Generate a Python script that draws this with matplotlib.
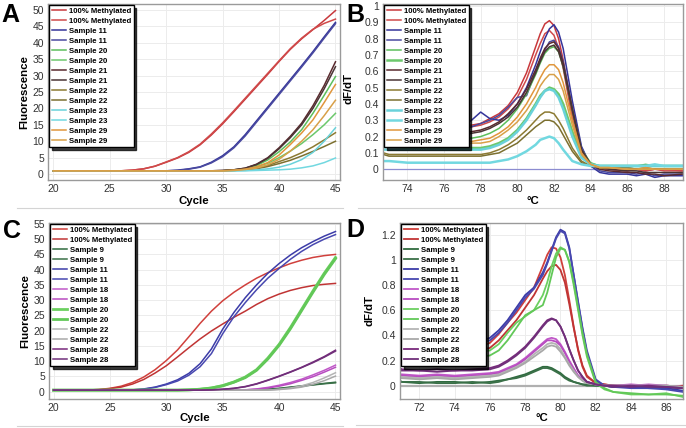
import matplotlib
matplotlib.use("Agg")
import matplotlib.pyplot as plt

plt.rcParams['font.family'] = ['Liberation Sans', 'DejaVu Sans']

# ---------------- Panel A : amplification ----------------
a_cycles = list(range(20, 46))
a_labels = ["100% Methylated", "100% Methylated", "Sample 11", "Sample 11", "Sample 20", "Sample 20",
            "Sample 21", "Sample 21", "Sample 22", "Sample 22", "Sample 23", "Sample 23", "Sample 29", "Sample 29"]
a_meth1 = [1.0]*7 + [1.2, 1.6, 2.4, 3.6, 4.9, 6.6, 8.9, 11.9, 15.3, 19.0, 22.8, 26.6, 30.4, 34.3, 38.0, 41.2, 44.0, 46.8, 49.8]
a_meth2 = [1.0]*7 + [1.2, 1.6, 2.4, 3.7, 5.0, 6.8, 9.1, 12.2, 15.6, 19.3, 23.1, 26.9, 30.7, 34.5, 38.2, 41.4, 44.1, 45.9, 47.2]
a_s11_1 = [1.0]*11 + [1.2, 1.6, 2.2, 3.6, 5.6, 8.3, 12.0, 16.2, 20.4, 24.6, 28.8, 33.0, 37.3, 41.8, 46.2]
a_s11_2 = [1.0]*11 + [1.1, 1.5, 2.1, 3.4, 5.3, 8.0, 11.6, 15.8, 20.0, 24.2, 28.4, 32.6, 36.9, 41.4, 45.8]
a_s20_1 = [1.0]*16 + [1.2, 1.6, 2.6, 4.3, 6.8, 9.8, 13.5, 18.5, 24.0, 29.7]
a_s20_2 = [1.0]*16 + [1.3, 1.6, 2.2, 3.3, 5.0, 7.0, 9.3, 12.0, 15.0, 18.5]
a_s21_1 = [1.0]*15 + [1.1, 1.3, 1.8, 3.0, 5.0, 8.0, 11.5, 15.5, 20.8, 27.0, 34.2]
a_s21_2 = [1.0]*15 + [1.1, 1.3, 1.8, 2.9, 4.8, 7.7, 11.1, 15.0, 20.0, 26.0, 32.7]
a_s22_1 = [1.0]*16 + [1.1, 1.4, 1.8, 2.6, 3.8, 5.0, 6.5, 8.3, 10.4, 12.6]
a_s22_2 = [1.0]*16 + [1.1, 1.3, 1.6, 2.3, 3.2, 4.2, 5.5, 6.9, 8.4, 10.0]
a_s23_1 = [1.0]*17 + [1.1, 1.3, 1.6, 2.1, 3.0, 4.4, 6.6, 10.0, 14.1]
a_s23_2 = [1.0]*17 + [1.0, 1.1, 1.2, 1.3, 1.5, 1.9, 2.5, 3.5, 4.9]
a_s29_1 = [1.0]*16 + [1.2, 1.5, 2.2, 3.5, 5.8, 9.0, 12.5, 16.5, 21.8, 27.3]
a_s29_2 = [1.0]*16 + [1.1, 1.4, 1.8, 2.8, 4.5, 7.0, 10.0, 13.5, 17.8, 22.5]
a_colors = ["#c8383c", "#d04a4a", "#34349a", "#4a4aa0", "#5cbf5c", "#6cc86c", "#5a2a2e", "#4a3434",
            "#8c7a32", "#7c7030", "#6ad2da", "#72d8e0", "#e0963c", "#d8a048"]

# ---------------- Panel B : melt curves ----------------
b_temps = [72.7, 73, 74, 75, 76, 77, 77.5, 78, 78.5, 79, 79.5, 80, 80.5, 81, 81.25, 81.5, 81.75, 82, 82.25, 82.5,
           83, 83.5, 84, 84.5, 85, 86, 86.5, 87, 87.5, 88, 89]
b_labels = a_labels
b_meth1 = [0.36, 0.28, 0.26, 0.27, 0.26, 0.27, 0.27, 0.28, 0.31, 0.34, 0.39, 0.47, 0.59, 0.75, 0.83, 0.89, 0.91, 0.88, 0.80, 0.67,
           0.34, 0.11, 0.03, 0.01, 0.0, -0.01, 0.0, -0.01, 0.0, 0.0, -0.01]
b_meth2 = [0.33, 0.26, 0.25, 0.25, 0.25, 0.26, 0.26, 0.27, 0.29, 0.32, 0.37, 0.44, 0.55, 0.70, 0.77, 0.83, 0.85, 0.82, 0.74, 0.62,
           0.31, 0.10, 0.03, 0.01, 0.0, -0.01, 0.0, -0.01, 0.0, -0.01, -0.01]
b_s11_1 = [0.24, 0.24, 0.23, 0.24, 0.24, 0.26, 0.30, 0.35, 0.31, 0.30, 0.33, 0.40, 0.50, 0.64, 0.72, 0.80, 0.86, 0.885, 0.84, 0.74,
           0.42, 0.14, 0.02, -0.02, -0.03, -0.03, -0.04, -0.03, -0.05, -0.04, -0.04]
b_s11_2 = [0.23, 0.23, 0.23, 0.22, 0.23, 0.24, 0.26, 0.28, 0.30, 0.33, 0.38, 0.44, 0.45, 0.60, 0.67, 0.73, 0.78, 0.79, 0.75, 0.66,
           0.38, 0.13, 0.03, -0.01, -0.02, -0.02, -0.03, -0.02, -0.04, -0.03, -0.03]
b_s20_1 = [0.20, 0.20, 0.19, 0.19, 0.19, 0.19, 0.19, 0.20, 0.22, 0.25, 0.30, 0.37, 0.46, 0.58, 0.65, 0.71, 0.74, 0.75, 0.72, 0.63,
           0.36, 0.12, 0.04, 0.02, 0.02, 0.02, 0.02, 0.03, 0.02, 0.02, 0.02]
b_s20_2 = [0.14, 0.14, 0.13, 0.13, 0.13, 0.13, 0.13, 0.13, 0.14, 0.16, 0.19, 0.24, 0.31, 0.40, 0.45, 0.48, 0.50, 0.49, 0.46, 0.40,
           0.23, 0.08, 0.03, 0.02, 0.02, 0.02, 0.02, 0.02, 0.02, 0.02, 0.02]
b_s21_1 = [0.22, 0.22, 0.22, 0.21, 0.22, 0.22, 0.23, 0.24, 0.26, 0.29, 0.34, 0.40, 0.49, 0.61, 0.68, 0.74, 0.77, 0.78, 0.74, 0.65,
           0.37, 0.12, 0.03, 0.0, -0.01, -0.02, -0.02, -0.03, -0.03, -0.04, -0.03]
b_s21_2 = [0.21, 0.21, 0.21, 0.21, 0.21, 0.21, 0.22, 0.23, 0.25, 0.28, 0.32, 0.38, 0.47, 0.59, 0.66, 0.72, 0.75, 0.76, 0.72, 0.63,
           0.36, 0.12, 0.03, 0.01, 0.0, -0.01, -0.01, -0.02, -0.02, -0.02, -0.02]
b_s22_1 = [0.10, 0.09, 0.09, 0.09, 0.09, 0.09, 0.09, 0.09, 0.10, 0.12, 0.15, 0.19, 0.24, 0.30, 0.33, 0.35, 0.35, 0.34, 0.30, 0.25,
           0.13, 0.05, 0.02, 0.01, 0.01, 0.01, 0.0, 0.01, 0.0, 0.0, 0.0]
b_s22_2 = [0.09, 0.08, 0.08, 0.08, 0.08, 0.08, 0.08, 0.08, 0.09, 0.10, 0.13, 0.16, 0.21, 0.26, 0.28, 0.30, 0.30, 0.29, 0.26, 0.21,
           0.11, 0.04, 0.02, 0.01, 0.01, 0.01, 0.0, 0.0, 0.0, 0.0, 0.0]
b_s23_1 = [0.12, 0.12, 0.12, 0.12, 0.12, 0.12, 0.12, 0.12, 0.13, 0.15, 0.18, 0.23, 0.30, 0.39, 0.44, 0.48, 0.49, 0.48, 0.44, 0.37,
           0.20, 0.07, 0.03, 0.02, 0.02, 0.02, 0.02, 0.02, 0.02, 0.02, 0.02]
b_s23_2 = [0.05, 0.05, 0.04, 0.04, 0.04, 0.04, 0.04, 0.04, 0.04, 0.05, 0.06, 0.08, 0.11, 0.15, 0.18, 0.19, 0.20, 0.19, 0.16, 0.12,
           0.05, 0.03, 0.02, 0.02, 0.02, 0.02, 0.02, 0.02, 0.03, 0.02, 0.02]
b_s29_1 = [0.18, 0.18, 0.17, 0.17, 0.17, 0.17, 0.17, 0.18, 0.19, 0.22, 0.26, 0.32, 0.40, 0.50, 0.56, 0.61, 0.64, 0.64, 0.61, 0.53,
           0.30, 0.10, 0.03, 0.01, 0.01, 0.0, 0.0, 0.01, 0.0, 0.0, 0.0]
b_s29_2 = [0.16, 0.16, 0.16, 0.15, 0.15, 0.15, 0.16, 0.16, 0.17, 0.20, 0.24, 0.29, 0.36, 0.45, 0.51, 0.55, 0.58, 0.58, 0.55, 0.48,
           0.27, 0.09, 0.03, 0.01, 0.01, 0.0, 0.0, 0.0, 0.0, 0.0, 0.0]
b_colors = a_colors
b_widths = [1.1, 1.1, 1.1, 1.1, 1.1, 1.8, 1.1, 1.1, 1.1, 1.1, 1.8, 1.8, 1.1, 1.1]

# ---------------- Panel C : amplification ----------------
c_cycles = list(range(20, 46))
c_labels = ["100% Methylated", "100% Methylated", "Sample 9", "Sample 9", "Sample 11", "Sample 11", "Sample 18", "Sample 18",
            "Sample 20", "Sample 20", "Sample 22", "Sample 22", "Sample 28", "Sample 28"]
c_meth1 = [0.5]*3 + [0.55, 0.7, 1.1, 1.8, 3.0, 4.8, 7.2, 10.2, 13.7, 18.0, 22.4, 26.4, 29.8, 32.6, 35.0, 37.2, 39.0, 40.6, 42.0, 43.1, 44.0, 44.6, 45.0]
c_meth2 = [0.5]*3 + [0.55, 0.7, 1.0, 1.5, 2.5, 4.0, 6.1, 8.5, 11.4, 14.4, 17.3, 19.9, 22.2, 24.4, 26.4, 28.6, 30.5, 32.0, 33.2, 34.1, 34.8, 35.2, 35.5]
c_s9_1 = [0.5]*18 + [0.6, 0.8, 1.1, 1.5, 1.9, 2.3, 2.7, 3.1]
c_s9_2 = [0.5]*18 + [0.6, 0.8, 1.0, 1.4, 1.8, 2.2, 2.6, 2.9]
c_s11_1 = [0.5]*7 + [0.6, 0.9, 1.5, 2.5, 3.9, 6.0, 9.2, 14.0, 20.5, 26.0, 30.8, 35.0, 38.8, 42.0, 44.8, 47.2, 49.2, 51.0, 52.5]
c_s11_2 = [0.5]*7 + [0.6, 0.8, 1.4, 2.3, 3.5, 5.4, 8.2, 12.5, 19.0, 24.6, 29.2, 33.4, 37.2, 40.4, 43.4, 46.0, 48.2, 50.0, 51.5]
c_s18_1 = [0.5]*17 + [0.6, 0.9, 1.4, 2.1, 3.0, 4.1, 5.5, 7.0, 8.7]
c_s18_2 = [0.5]*17 + [0.6, 0.8, 1.2, 1.8, 2.6, 3.7, 4.9, 6.4, 8.0]
c_s20_1 = [0.5]*12 + [0.6, 0.8, 1.2, 2.0, 3.2, 4.8, 7.2, 11.0, 15.5, 21.0, 27.0, 33.0, 38.8, 44.0]
c_s20_2 = [0.5]*12 + [0.6, 0.8, 1.2, 1.9, 3.1, 4.6, 7.0, 10.7, 15.2, 20.6, 26.6, 32.6, 38.4, 43.6]
c_s22_1 = [0.5]*20 + [0.8, 1.2, 1.9, 3.0, 4.5, 6.2]
c_s22_2 = [0.5]*20 + [0.7, 1.0, 1.5, 2.4, 3.6, 5.1]
c_s28_1 = [0.5]*14 + [0.6, 0.8, 1.1, 1.7, 2.6, 3.8, 5.1, 6.5, 8.0, 9.7, 11.5, 13.6]
c_s28_2 = [0.5]*14 + [0.6, 0.8, 1.1, 1.6, 2.5, 3.7, 5.0, 6.4, 7.9, 9.5, 11.3, 13.3]
c_colors = ["#d0403c", "#c03434", "#2f6b3f", "#3a7048", "#3c3ca8", "#4848b0", "#c058c8", "#b84cc0",
            "#6cd060", "#62c858", "#b4b4b4", "#a8a8a8", "#782a7c", "#70307a"]
c_widths = [1.1, 1.1, 1.1, 1.1, 1.1, 1.1, 1.1, 1.1, 2.0, 2.0, 1.1, 1.1, 1.1, 1.1]

# ---------------- Panel D : melt curves ----------------
d_temps = [70.9, 71, 72, 73, 74, 75, 76, 76.5, 77, 77.5, 78, 78.5, 79, 79.25, 79.5, 79.75, 80, 80.25, 80.5, 80.75,
           81, 81.25, 81.5, 82, 82.5, 83, 84, 85, 86, 86.95]
d_labels = c_labels
d_meth1 = [0.28, 0.28, 0.27, 0.28, 0.28, 0.29, 0.34, 0.41, 0.50, 0.58, 0.68, 0.78, 0.95, 1.04, 1.10, 1.09, 1.02, 0.88, 0.68, 0.47,
           0.28, 0.15, 0.07, 0.02, 0.01, 0.0, 0.0, -0.01, 0.0, -0.01]
d_meth2 = [0.25, 0.25, 0.25, 0.25, 0.26, 0.27, 0.30, 0.36, 0.44, 0.52, 0.62, 0.72, 0.85, 0.91, 0.95, 0.96, 0.92, 0.82, 0.65, 0.46,
           0.29, 0.16, 0.08, 0.02, 0.01, 0.0, 0.0, 0.0, -0.01, 0.0]
d_s9_1 = [0.04, 0.03, 0.02, 0.03, 0.03, 0.02, 0.03, 0.04, 0.05, 0.07, 0.09, 0.12, 0.15, 0.15, 0.14, 0.12, 0.10, 0.07, 0.05, 0.03,
          0.02, 0.01, 0.01, 0.0, 0.0, 0.0, 0.0, 0.0, -0.01, -0.02]
d_s9_2 = [0.03, 0.03, 0.03, 0.02, 0.02, 0.03, 0.02, 0.03, 0.05, 0.06, 0.08, 0.11, 0.14, 0.14, 0.13, 0.11, 0.09, 0.06, 0.04, 0.03,
          0.02, 0.01, 0.0, 0.0, 0.0, -0.01, 0.0, -0.01, -0.01, -0.02]
d_s11_1 = [0.31, 0.30, 0.30, 0.30, 0.31, 0.33, 0.38, 0.44, 0.52, 0.62, 0.72, 0.78, 0.90, 0.98, 1.08, 1.18, 1.24, 1.22, 1.10, 0.88,
           0.66, 0.45, 0.26, 0.04, 0.0, -0.01, -0.01, -0.02, -0.02, -0.04]
d_s11_2 = [0.29, 0.29, 0.29, 0.29, 0.30, 0.32, 0.36, 0.42, 0.50, 0.60, 0.70, 0.77, 0.88, 0.97, 1.07, 1.17, 1.23, 1.21, 1.09, 0.88,
           0.67, 0.46, 0.28, 0.05, 0.0, -0.01, -0.02, -0.02, -0.03, -0.05]
d_s18_1 = [0.09, 0.09, 0.08, 0.09, 0.08, 0.09, 0.10, 0.11, 0.14, 0.17, 0.22, 0.28, 0.34, 0.37, 0.38, 0.37, 0.33, 0.27, 0.20, 0.14,
           0.08, 0.05, 0.03, 0.01, 0.0, 0.0, 0.0, 0.01, 0.0, -0.01]
d_s18_2 = [0.08, 0.08, 0.07, 0.08, 0.07, 0.08, 0.09, 0.10, 0.13, 0.16, 0.21, 0.27, 0.33, 0.36, 0.36, 0.35, 0.32, 0.26, 0.19, 0.13,
           0.08, 0.05, 0.03, 0.01, 0.0, 0.0, 0.01, 0.0, 0.0, -0.01]
d_s20_1 = [0.26, 0.26, 0.25, 0.25, 0.25, 0.26, 0.28, 0.33, 0.42, 0.50, 0.55, 0.60, 0.72, 0.82, 0.95, 1.05, 1.10, 1.08, 0.98, 0.80,
           0.60, 0.40, 0.23, 0.02, -0.03, -0.05, -0.07, -0.07, -0.06, -0.09]
d_s20_2 = [0.22, 0.22, 0.22, 0.22, 0.22, 0.22, 0.24, 0.28, 0.36, 0.46, 0.56, 0.60, 0.64, 0.74, 0.88, 1.02, 1.09, 1.08, 0.99, 0.82,
           0.62, 0.42, 0.25, 0.03, -0.02, -0.05, -0.06, -0.07, -0.07, -0.08]
d_s22_1 = [0.07, 0.07, 0.06, 0.07, 0.06, 0.07, 0.08, 0.09, 0.12, 0.15, 0.19, 0.25, 0.30, 0.33, 0.34, 0.33, 0.29, 0.23, 0.17, 0.12,
           0.07, 0.04, 0.02, 0.01, 0.0, 0.0, 0.0, 0.0, 0.0, -0.01]
d_s22_2 = [0.06, 0.06, 0.05, 0.06, 0.05, 0.06, 0.07, 0.08, 0.11, 0.14, 0.18, 0.23, 0.28, 0.31, 0.32, 0.31, 0.27, 0.22, 0.16, 0.11,
           0.07, 0.04, 0.02, 0.01, 0.0, 0.0, 0.0, 0.0, 0.0, -0.01]
d_s28_1 = [0.14, 0.13, 0.12, 0.13, 0.12, 0.13, 0.14, 0.16, 0.20, 0.25, 0.31, 0.39, 0.48, 0.52, 0.535, 0.52, 0.47, 0.39, 0.29, 0.20,
           0.12, 0.07, 0.03, 0.01, 0.0, 0.0, -0.01, 0.0, -0.01, -0.02]
d_s28_2 = [0.12, 0.12, 0.12, 0.11, 0.12, 0.12, 0.13, 0.15, 0.19, 0.24, 0.30, 0.38, 0.47, 0.51, 0.53, 0.52, 0.47, 0.39, 0.29, 0.20,
           0.12, 0.07, 0.03, 0.01, 0.0, -0.01, 0.0, -0.01, -0.01, -0.02]
d_colors = c_colors

# ---------------- Figure ----------------
W, H = 686, 428
fig = plt.figure(figsize=(W / 100, H / 100), dpi=100)


def px_axes(x0, y0, x1, y1):
    return fig.add_axes([x0 / W, 1 - y1 / H, (x1 - x0) / W, (y1 - y0) / H])


def style(ax, xlim, ylim, xticks, yticks, yfmt=None):
    ax.set_xlim(*xlim)
    ax.set_ylim(*ylim)
    ax.set_xticks(xticks)
    ax.set_yticks(yticks)
    if yfmt is not None:
        ax.set_yticklabels([yfmt(v) for v in yticks])
    ax.grid(True, color="#ececec", lw=0.7)
    ax.set_axisbelow(True)
    for s in ax.spines.values():
        s.set_color("#9a9a9a")
        s.set_linewidth(1.0)
    ax.tick_params(length=0, labelsize=7.5, labelcolor="#333333", pad=3)


def add_legend(ax):
    leg = ax.legend(loc="upper left", prop={"size": 5.6, "weight": "bold"}, labelspacing=0.33,
                    handlelength=1.9, handletextpad=0.35, borderpad=0.3, borderaxespad=0.15,
                    fancybox=False, framealpha=1, edgecolor="black",
                    shadow={"color": "black", "alpha": 0.75})
    leg.get_frame().set_linewidth(1.0)
    return leg


series_a = [a_meth1, a_meth2, a_s11_1, a_s11_2, a_s20_1, a_s20_2, a_s21_1, a_s21_2,
            a_s22_1, a_s22_2, a_s23_1, a_s23_2, a_s29_1, a_s29_2]
series_b = [b_meth1, b_meth2, b_s11_1, b_s11_2, b_s20_1, b_s20_2, b_s21_1, b_s21_2,
            b_s22_1, b_s22_2, b_s23_1, b_s23_2, b_s29_1, b_s29_2]
series_c = [c_meth1, c_meth2, c_s9_1, c_s9_2, c_s11_1, c_s11_2, c_s18_1, c_s18_2,
            c_s20_1, c_s20_2, c_s22_1, c_s22_2, c_s28_1, c_s28_2]
series_d = [d_meth1, d_meth2, d_s9_1, d_s9_2, d_s11_1, d_s11_2, d_s18_1, d_s18_2,
            d_s20_1, d_s20_2, d_s22_1, d_s22_2, d_s28_1, d_s28_2]

# A
axA = px_axes(48, 4, 340, 180)
for ys, lab, col in zip(series_a, a_labels, a_colors):
    axA.plot(a_cycles, ys, color=col, lw=1.1, label=lab)
style(axA, (19.53, 45.4), (-1.8, 51.8), [20, 25, 30, 35, 40, 45], list(range(0, 51, 5)))
axA.set_xlabel("Cycle", fontsize=8.2, fontweight="bold", labelpad=1)
axA.set_ylabel("Fluorescence", fontsize=8.2, fontweight="bold", labelpad=2)
add_legend(axA)

# B
axB = px_axes(383, 4, 683, 180)
axB.axhline(0, color="#8c8cd0", lw=0.9, zorder=1.5)
for ys, lab, col, lw in zip(series_b, b_labels, b_colors, b_widths):
    axB.plot(b_temps, ys, color=col, lw=lw, label=lab)
style(axB, (72.67, 89.04), (-0.066, 1.012), [74, 76, 78, 80, 82, 84, 86, 88],
      [0, 0.1, 0.2, 0.3, 0.4, 0.5, 0.6, 0.7, 0.8, 0.9, 1.0],
      yfmt=lambda v: "0" if v == 0 else ("1" if v == 1 else f"{v:.1f}"))
axB.set_xlabel("°C", fontsize=8.2, fontweight="bold", labelpad=1)
axB.set_ylabel("dF/dT", fontsize=8.2, fontweight="bold")
axB.yaxis.set_label_coords(-0.1, 0.52)
add_legend(axB)

# C
axC = px_axes(49, 223, 340, 399)
for ys, lab, col, lw in zip(series_c, c_labels, c_colors, c_widths):
    axC.plot(c_cycles, ys, color=col, lw=lw, label=lab)
style(axC, (19.6, 45.4), (-2.4, 55.3), [20, 25, 30, 35, 40, 45], list(range(0, 56, 5)))
axC.set_xlabel("Cycle", fontsize=8.2, fontweight="bold", labelpad=0)
axC.set_ylabel("Fluorescence", fontsize=8.2, fontweight="bold", labelpad=2)
add_legend(axC)

# D
axD = px_axes(400, 223, 683, 399)
axD.axhline(0, color="#b0b0b0", lw=1.6, zorder=1.5)
for ys, lab, col in zip(series_d, d_labels, d_colors):
    axD.plot(d_temps, ys, color=col, lw=1.3, label=lab)
style(axD, (70.9, 86.95), (-0.106, 1.293), [72, 74, 76, 78, 80, 82, 84, 86],
      [0, 0.2, 0.4, 0.6, 0.8, 1.0, 1.2],
      yfmt=lambda v: "0" if v == 0 else ("1" if v == 1 else f"{v:.1f}"))
axD.set_xlabel("°C", fontsize=8.2, fontweight="bold", labelpad=0)
axD.set_ylabel("dF/dT", fontsize=8.2, fontweight="bold")
axD.yaxis.set_label_coords(-0.09, 0.5)
add_legend(axD)

# panel letters
for lab, x, y in [("A", 1, 22), ("B", 346, 22), ("C", 3, 238), ("D", 346, 237)]:
    fig.text(x / W, 1 - y / H, lab, fontsize=18, fontweight="bold", ha="left", va="baseline")

# light separator lines under each panel
for x0, x1, y in [(17, 343, 208), (358, 686, 208), (17, 343, 426), (356, 686, 425)]:
    fig.add_artist(plt.Line2D([x0 / W, x1 / W], [1 - y / H, 1 - y / H], color="#d4d4d4", lw=0.8))

fig.savefig("out.png", dpi=100)
